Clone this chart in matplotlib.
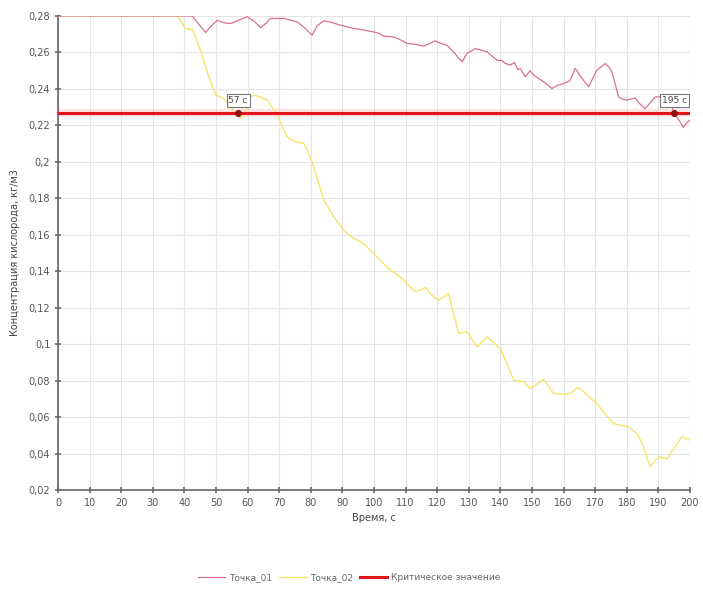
"""
Oxygen concentration at two points vs time, with critical level
"""
import matplotlib
matplotlib.use("Agg")
import matplotlib.pyplot as plt
from matplotlib.ticker import FuncFormatter, MultipleLocator

# Точка_01
t1 = [0, 42.5, 44.5, 46.7, 48.5, 50.4, 52.5, 54.6, 57, 59.9, 62, 64.1, 66, 67.2,
      71.5, 75.7, 78, 80.4, 82, 84.1, 87, 89.4, 91.5, 93.6, 96, 99.9, 101.5,
      103.1, 106.2, 108, 110.5, 113, 115.7, 117.5, 119.4, 121, 123.1, 125,
      126.5, 127.9, 129.4, 132.1, 134, 135.8, 137, 138.9, 140.5, 141.5, 143.1,
      144.5, 145.5, 146.3, 147.9, 149.4, 150.5, 152.1, 154, 156.3, 158, 160,
      162, 163.7, 165.5, 167.9, 170.5, 173.2, 174.3, 175.3, 177.4, 178.5, 180,
      182.7, 184, 185.8, 187.5, 189, 191.6, 193.5, 195, 196.9, 197.9, 199, 200]
v1 = [0.28, 0.28, 0.2755, 0.2709, 0.2745, 0.2776, 0.2762, 0.2758, 0.2775,
      0.2795, 0.2772, 0.2736, 0.2762, 0.2786, 0.2786, 0.2767, 0.2735, 0.2694,
      0.2745, 0.2773, 0.2762, 0.2749, 0.274, 0.2731, 0.2725, 0.2712, 0.2705,
      0.2689, 0.2685, 0.2672, 0.2649, 0.2645, 0.2634, 0.2648, 0.2663, 0.265,
      0.2639, 0.2605, 0.2575, 0.2548, 0.2594, 0.2621, 0.2612, 0.2603, 0.2585,
      0.2557, 0.2555, 0.254, 0.2530, 0.2545, 0.2505, 0.2512, 0.2466, 0.250,
      0.2475, 0.2457, 0.2435, 0.2402, 0.2418, 0.2429, 0.2445, 0.2512, 0.2465,
      0.2411, 0.2502, 0.2539, 0.252, 0.2493, 0.2356, 0.2345, 0.2338, 0.235,
      0.232, 0.2292, 0.2325, 0.2356, 0.2356, 0.2345, 0.2265, 0.2219, 0.2188,
      0.2215, 0.2228]

# Точка_02
t2 = [0, 37.7, 40.4, 42.5, 45.1, 47.7, 49.9, 52, 54, 56.2, 57.8, 59, 60.9, 62,
      64, 66.2, 69.4, 72.5, 73.6, 75.1, 77.8, 79, 80.9, 84.1, 87.3, 90.4, 91.5,
      93.6, 96.7, 99.9, 102, 104.6, 106.5, 108.9, 111, 113.1, 116.3, 118.5,
      120.5, 123.6, 125, 126.8, 129.4, 132.6, 135.8, 138, 140, 144.2, 147.3,
      149.4, 151.5, 153.6, 156.8, 159.5, 162.1, 164.7, 167.5, 170.5, 173,
      175.8, 178, 180.5, 183.2, 185, 187.4, 189, 190.5, 192.6, 195, 197.4, 200]
v2 = [0.28, 0.28, 0.2731, 0.2725, 0.2612, 0.2466, 0.2365, 0.2353, 0.232,
      0.2265, 0.2237, 0.2262, 0.2356, 0.2365, 0.2355, 0.2338, 0.2256, 0.2137,
      0.2125, 0.211, 0.2101, 0.206, 0.1972, 0.179, 0.1698, 0.1625, 0.1607,
      0.158, 0.1552, 0.1497, 0.146, 0.1415, 0.139, 0.136, 0.132, 0.1287,
      0.1311, 0.1265, 0.1241, 0.1278, 0.118, 0.1059, 0.1068, 0.0985, 0.104,
      0.1005, 0.0977, 0.0803, 0.0794, 0.0757, 0.078, 0.0807, 0.073, 0.0725,
      0.073, 0.0763, 0.072, 0.0675, 0.062, 0.0565, 0.0555, 0.0547, 0.0511,
      0.045, 0.0327, 0.0365, 0.0382, 0.037, 0.043, 0.0492, 0.0474]

critical = 0.2265
cross_t = [57, 195]
cross_labels = ["57 с", "195 с"]

plt.rcParams['font.family'] = ['DejaVu Sans']

fig = plt.figure(figsize=(7.03, 5.89), dpi=100)
ax = fig.add_axes([0.0825, 0.168, 0.899, 0.805])

ax.plot(t1, v1, color='#d8708f', lw=0.9, label='Точка_01', zorder=3.5)
ax.plot(t2, v2, color='#f7e36b', lw=1.0, label='Точка_02', zorder=3)

# critical line with faint glow
ax.axhline(critical, color='#f6b3b6', lw=6, alpha=0.35, zorder=2)
ax.axhline(critical, color='#e3141b', lw=2.2, zorder=4, label='Критическое значение')

for t, lab in zip(cross_t, cross_labels):
    ax.plot([t], [critical], 'o', color='#8a1111', ms=4, zorder=5)
    ax.annotate(lab, (t, critical), xytext=(0, 6), textcoords='offset points',
                ha='center', va='bottom', fontsize=6.5, color='#444444',
                bbox=dict(boxstyle='square,pad=0.2', fc='white', ec='#777777', lw=0.8),
                zorder=6)

ax.set_xlim(0, 200)
ax.set_ylim(0.02, 0.28)
ax.xaxis.set_major_locator(MultipleLocator(10))
ax.yaxis.set_major_locator(MultipleLocator(0.02))


def fmt(v, pos):
    s = ('%.2f' % v).rstrip('0').rstrip('.')
    return s.replace('.', ',')


ax.yaxis.set_major_formatter(FuncFormatter(fmt))
ax.grid(True, color='#e4e4e4', lw=0.8)
ax.set_axisbelow(True)

for side in ['top', 'right']:
    ax.spines[side].set_visible(False)
for side in ['left', 'bottom']:
    ax.spines[side].set_color('#666666')
    ax.spines[side].set_linewidth(1.2)

ax.tick_params(axis='both', colors='#666666', labelcolor='#555555', labelsize=7,
               length=4, width=1.2, direction='inout')

ax.set_xlabel('Время, с', fontsize=7, color='#444444', labelpad=4)
ax.set_ylabel('Концентрация кислорода, кг/м3', fontsize=7, color='#444444', labelpad=6)

fig.legend(loc='center', bbox_to_anchor=(0.497, 0.019), ncol=3, frameon=False,
           fontsize=6.5, handlelength=3.0, columnspacing=0.8, handletextpad=0.4,
           labelcolor='#666666')

fig.savefig('out.png', dpi=100)
